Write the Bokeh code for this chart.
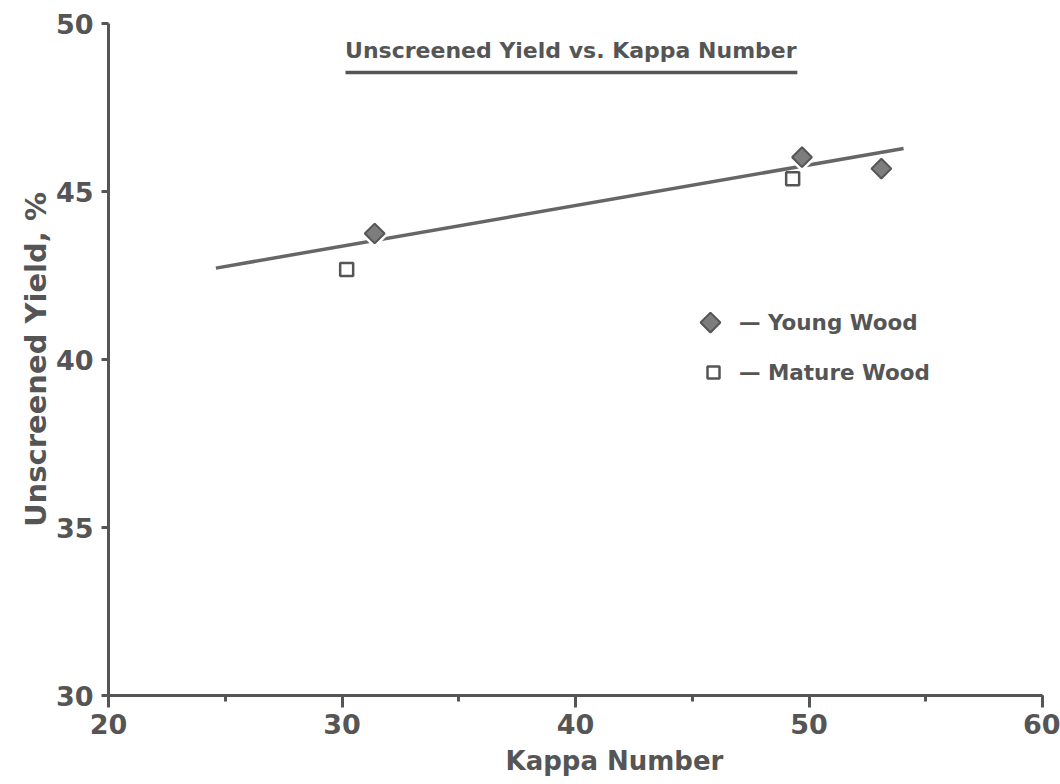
import numpy as np
from bokeh.plotting import figure
from bokeh.models import SingleIntervalTicker, Range1d, Title
from bokeh.core.properties import value
from bokeh.embed import file_html
from bokeh.resources import INLINE

# Pulping results: unscreened yield (%) against kappa number
young_kappa = [31.4, 49.7, 53.1]
young_yield = [43.75, 46.02, 45.68]
mature_kappa = [30.2, 49.3]
mature_yield = [42.68, 45.38]

# Fitted trend line end points
fit_kappa = [24.6, 54.05]
fit_yield = [42.72, 46.28]

title_text = "Unscreened Yield vs. Kappa Number"
legend_labels = ["\u2014 Young Wood", "\u2014 Mature Wood"]

INK = "#555555"
FONT = "DejaVu Sans"

p = figure(width=1060, height=784, output_backend="svg", toolbar_location=None,
           x_range=Range1d(20, 60), y_range=Range1d(30, 50),
           min_border_left=108, min_border_right=18, min_border_top=23, min_border_bottom=89)
p.outline_line_color = None
p.xgrid.visible = False
p.ygrid.visible = False
p.background_fill_color = "white"
p.border_fill_color = "white"

# axes
p.xaxis.ticker = SingleIntervalTicker(interval=10, num_minor_ticks=2)
p.yaxis.ticker = SingleIntervalTicker(interval=5, num_minor_ticks=0)
for ax in (p.xaxis[0], p.yaxis[0]):
    ax.axis_line_color = INK
    ax.axis_line_width = 3
    ax.major_tick_line_color = INK
    ax.major_tick_line_width = 3
    ax.minor_tick_line_color = INK
    ax.minor_tick_line_width = 3
    ax.major_tick_in = 0
    ax.minor_tick_in = 0
    ax.major_label_text_font = FONT
    ax.major_label_text_font_style = "bold"
    ax.major_label_text_font_size = "27px"
    ax.major_label_text_color = INK
    ax.axis_label_text_font = FONT
    ax.axis_label_text_font_style = "bold"
    ax.axis_label_text_color = INK

p.xaxis.major_tick_out = 12
p.xaxis.minor_tick_out = 6
p.xaxis.major_label_standoff = 6

p.yaxis.major_tick_out = 7
p.yaxis.minor_tick_out = 0
p.yaxis.major_label_standoff = 8
p.yaxis.axis_label = "Unscreened Yield, %"
p.yaxis.axis_label_text_font_size = "29px"
p.yaxis.axis_label_standoff = 0

# x-axis title, set right of the axis centre
p.add_layout(Title(text="Kappa Number", align="left", offset=397, standoff=14,
                   text_font=FONT, text_font_style="bold", text_font_size="26px",
                   text_color=INK), "below")

# trend line
p.line(fit_kappa, fit_yield, line_color="#666666", line_width=3.5)

# white halos so the line breaks around the markers
p.scatter(young_kappa, young_yield, marker="square", angle=np.pi / 4, size=21,
          fill_color="white", line_color=None)
p.scatter(young_kappa, young_yield, marker="square", angle=np.pi / 4, size=14,
          fill_color="#7d7d7d", line_color=INK, line_width=2)
p.scatter(mature_kappa, mature_yield, marker="square", size=13,
          fill_color="white", line_color=INK, line_width=2.5)

# title with underline
p.text(x=[39.8], y=[49.2], text=[title_text], text_font=value(FONT), text_font_style="bold",
       text_font_size="22px", text_color=INK, text_align="center", text_baseline="middle")
p.segment(x0=[30.15], y0=[48.54], x1=[49.5], y1=[48.54], line_color=INK, line_width=3.5)

# legend
p.scatter([45.78], [41.1], marker="square", angle=np.pi / 4, size=14,
          fill_color="#7d7d7d", line_color=INK, line_width=2)
p.scatter([45.91], [39.61], marker="square", size=12,
          fill_color="white", line_color=INK, line_width=2.5)
p.text(x=[47.0, 47.0], y=[41.1, 39.61], text=legend_labels, text_font=value(FONT),
       text_font_style="bold", text_font_size="21.5px", text_color=INK,
       text_align="left", text_baseline="middle")

open("out.html", "w").write(file_html(p, INLINE))
